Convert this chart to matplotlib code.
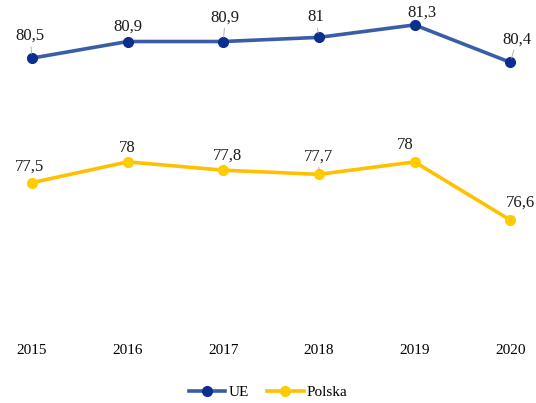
import numpy as np
import matplotlib.pyplot as plt

plt.rcParams['font.family'] = ['Liberation Serif', 'DejaVu Serif']

# DATA
years = ['2015', '2016', '2017', '2018', '2019', '2020']
ue = [80.5, 80.9, 80.9, 81.0, 81.3, 80.4]
polska = [77.5, 78.0, 77.8, 77.7, 78.0, 76.6]

# label offsets in pixels (dx, dy), dy up
ue_off = [(-2, 22), (0, 15), (2, 24), (-3, 20), (7, 12), (7, 23)]
pl_off = [(-3, 16), (0, 14), (4, 15), (0, 18), (-9, 17), (10, 17)]

fig = plt.figure(figsize=(5.36, 4.03), dpi=100)
ax = fig.add_axes([0, 73/403, 1, 330/403])
x = np.arange(len(years))

ax.plot(x, ue, color='#3A5DA8', lw=2.6, marker='o', ms=7,
        mfc='#0B2F8F', mec='#0B2F8F', label='UE', zorder=3)
ax.plot(x, polska, color='#FFC000', lw=2.6, marker='o', ms=7,
        mfc='#FFCC00', mec='#FFCC00', label='Polska', zorder=3)

px = 0.72  # points per pixel
for vals, offs in [(ue, ue_off), (polska, pl_off)]:
    for i, v in enumerate(vals):
        dx, dy = offs[i]
        lbl = f'{v:g}'.replace('.', ',')
        arrow = dict(arrowstyle='-', color='#A6A6A6', lw=0.6, shrinkA=0, shrinkB=3) if dy >= 18 else None
        ax.annotate(lbl, (i, v), xytext=(dx*px, dy*px), textcoords='offset points',
                    ha='center', va='center', fontsize=12, color='#1a1a1a',
                    arrowprops=arrow, zorder=4)

ax.set_xlim(-0.335, 5.27)
ax.set_ylim(73.95, 81.9)
ax.set_xticks(x)
ax.set_xticklabels(years, fontsize=11)
ax.tick_params(axis='x', length=0, pad=10)
ax.set_yticks([])
for s in ax.spines.values():
    s.set_visible(False)

fig.legend(loc='lower center', bbox_to_anchor=(0.5, -0.025), ncol=2, frameon=False,
           fontsize=11, handlelength=2.4, handletextpad=0.2, columnspacing=1.2)

fig.savefig('out.png', dpi=100)
